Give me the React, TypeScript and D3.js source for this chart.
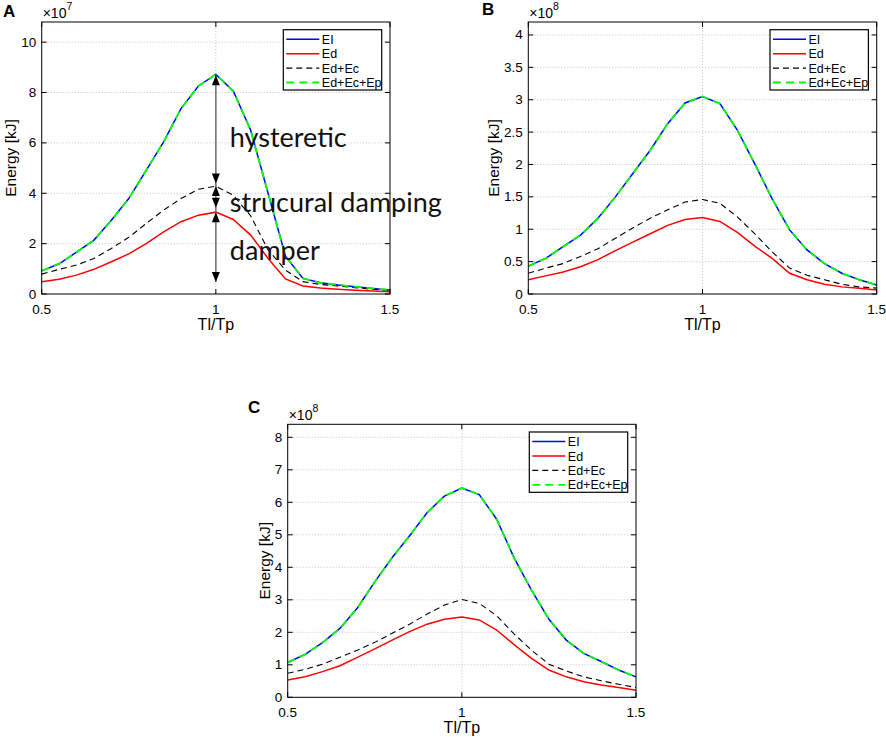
import * as d3 from 'd3';
import * as React from 'react';

// Tl/Tp sample points
const tlTp = [0.5, 0.55, 0.6, 0.65, 0.7, 0.75, 0.8, 0.85, 0.9, 0.95, 1.0, 1.05, 1.1, 1.15, 1.2, 1.25, 1.3, 1.35, 1.4, 1.45, 1.5];

// panel A (x1e7 kJ)
const eiA = [0.92, 1.2, 1.66, 2.14, 2.93, 3.79, 4.91, 6.04, 7.36, 8.26, 8.72, 8.06, 6.5, 4.0, 1.5, 0.62, 0.45, 0.36, 0.29, 0.22, 0.16];
const edEcA = [0.79, 0.98, 1.15, 1.41, 1.81, 2.25, 2.8, 3.33, 3.79, 4.16, 4.28, 3.92, 3.1, 1.75, 0.95, 0.49, 0.38, 0.32, 0.25, 0.19, 0.13];
const edA = [0.49, 0.59, 0.75, 0.98, 1.28, 1.59, 2.0, 2.47, 2.87, 3.13, 3.25, 2.96, 2.34, 1.41, 0.6, 0.32, 0.24, 0.19, 0.15, 0.12, 0.09];

// panel B (x1e8 kJ)
const eiB = [0.43, 0.55, 0.73, 0.91, 1.17, 1.5, 1.86, 2.22, 2.63, 2.95, 3.05, 2.94, 2.53, 2.01, 1.47, 0.99, 0.68, 0.47, 0.32, 0.22, 0.14];
const edEcB = [0.32, 0.4, 0.47, 0.58, 0.7, 0.86, 1.02, 1.17, 1.3, 1.42, 1.46, 1.4, 1.19, 0.93, 0.65, 0.4, 0.29, 0.22, 0.15, 0.11, 0.09];
const edB = [0.22, 0.28, 0.34, 0.42, 0.53, 0.67, 0.8, 0.93, 1.06, 1.15, 1.18, 1.12, 0.95, 0.74, 0.55, 0.32, 0.22, 0.15, 0.11, 0.09, 0.06];

// panel C (x1e8 kJ)
const eiC = [1.07, 1.32, 1.68, 2.12, 2.75, 3.55, 4.3, 4.97, 5.68, 6.19, 6.44, 6.24, 5.48, 4.29, 3.3, 2.4, 1.76, 1.35, 1.1, 0.84, 0.63];
const edEcC = [0.74, 0.86, 1.02, 1.23, 1.45, 1.69, 1.97, 2.25, 2.56, 2.84, 3.01, 2.89, 2.51, 1.95, 1.45, 1.02, 0.81, 0.63, 0.51, 0.4, 0.3];
const edC = [0.53, 0.63, 0.79, 0.97, 1.23, 1.49, 1.76, 2.02, 2.25, 2.4, 2.47, 2.38, 2.07, 1.62, 1.2, 0.84, 0.63, 0.48, 0.38, 0.3, 0.22];

const xTicks = [0.5, 1, 1.5];
const yTicksA = [0, 2, 4, 6, 8, 10];
const yTicksB = [0, 0.5, 1, 1.5, 2, 2.5, 3, 3.5, 4];
const yTicksC = [0, 1, 2, 3, 4, 5, 6, 7, 8];

const legendLabels = ['EI', 'Ed', 'Ed+Ec', 'Ed+Ec+Ep'];

// A annotation: arrow segments [from, to] in data units, and labels
const arrowSegs: [number, number][] = [[8.69, 4.39], [4.29, 3.42], [3.25, 0.48]];
const annLabels = ['hysteretic', 'strucural damping', 'damper'];
const annBaselines = [146.7, 211.7, 260];

const FONT = '"Liberation Sans", Arial, sans-serif';

interface PanelProps {
    letter: string;
    letterX: number;
    letterY: number;
    box: { left: number; right: number; top: number; bottom: number };
    yMax: number;
    yTicks: number[];
    exponent: number;
    yLabelX: number;
    ei: number[];
    ed: number[];
    edEc: number[];
    children?: (x: d3.ScaleLinear<number, number>, y: d3.ScaleLinear<number, number>) => React.ReactNode;
}

const Panel: React.FC<PanelProps> = ({ letter, letterX, letterY, box, yMax, yTicks, exponent, yLabelX, ei, ed, edEc, children }) => {
    const x = d3.scaleLinear().domain([0.5, 1.5]).range([box.left, box.right]);
    const y = d3.scaleLinear().domain([0, yMax]).range([box.bottom, box.top]);

    const mk = (vals: number[]) =>
        d3.line<number>().x((_, i) => x(tlTp[i])).y(d => y(d))(vals) || '';

    const series = [
        { vals: ei, stroke: '#0000ff', dash: undefined, w: 1.5 },
        { vals: ed, stroke: '#ff0000', dash: undefined, w: 1.5 },
        { vals: edEc, stroke: '#000000', dash: '6,4', w: 1.1 },
        { vals: ei, stroke: '#00ff00', dash: '8,5', w: 1.8 },
    ];

    const tl = 5;
    const lgW = 98.4, lgH = 60.3;
    const lgX = box.right - 8.3 - lgW;
    const lgY = box.top + 7.7;

    const ticksFmt = (v: number) => String(v);

    return (
        <g>
            {/* grid */}
            {yTicks.filter(t => t > 0).map(t => (
                <line key={'gy' + t} x1={box.left} x2={box.right} y1={y(t)} y2={y(t)}
                    stroke="#c4c4c4" strokeDasharray="1,2" />
            ))}
            {xTicks.slice(1, -1).map(t => (
                <line key={'gx' + t} x1={x(t)} x2={x(t)} y1={box.top} y2={box.bottom}
                    stroke="#c4c4c4" strokeDasharray="1,2" />
            ))}

            {/* lines */}
            {series.map((s, i) => (
                <path key={i} d={mk(s.vals)} fill="none" stroke={s.stroke}
                    strokeWidth={s.w} strokeDasharray={s.dash} />
            ))}

            {children && children(x, y)}

            {/* box + ticks */}
            <rect x={box.left} y={box.top} width={box.right - box.left} height={box.bottom - box.top}
                fill="none" stroke="#000" strokeWidth={1} />
            {yTicks.map(t => (
                <g key={'yt' + t}>
                    <line x1={box.left} x2={box.left + tl} y1={y(t)} y2={y(t)} stroke="#000" />
                    <line x1={box.right} x2={box.right - tl} y1={y(t)} y2={y(t)} stroke="#000" />
                    <text x={box.left - 5.5} y={y(t) + 4.5} textAnchor="end" fontSize={13.5} fontFamily={FONT}>{ticksFmt(t)}</text>
                </g>
            ))}
            {xTicks.map(t => (
                <g key={'xt' + t}>
                    <line x1={x(t)} x2={x(t)} y1={box.bottom} y2={box.bottom - tl} stroke="#000" />
                    <line x1={x(t)} x2={x(t)} y1={box.top} y2={box.top + tl} stroke="#000" />
                    <text x={x(t)} y={box.bottom + 20} textAnchor="middle" fontSize={13.5} fontFamily={FONT}>{ticksFmt(t)}</text>
                </g>
            ))}

            {/* exponent */}
            <text x={box.left + 1} y={box.top - 4} fontSize={14} fontFamily={FONT}>
                ×10<tspan dy={-8} fontSize={10.5}>{exponent}</tspan>
            </text>

            {/* axis labels */}
            <text transform={`translate(${yLabelX},${(box.top + box.bottom) / 2}) rotate(-90)`}
                textAnchor="middle" dominantBaseline="central" fontSize={15.5} fontFamily={FONT}>Energy [kJ]</text>
            <text x={(box.left + box.right) / 2} y={box.bottom + 36} textAnchor="middle" fontSize={16} fontFamily={FONT}>Tl/Tp</text>

            {/* panel letter */}
            <text x={letterX} y={letterY} fontSize={17} fontWeight="bold" fontFamily={FONT}>{letter}</text>

            {/* legend */}
            <rect x={lgX} y={lgY} width={lgW} height={lgH} fill="#fff" stroke="#000" strokeWidth={1.2} />
            {legendLabels.map((lab, i) => {
                const ry = lgY + 9.6 + i * 14.4;
                const s = series[i];
                return (
                    <g key={lab}>
                        <line x1={lgX + 3} x2={lgX + 36} y1={ry} y2={ry} stroke={s.stroke}
                            strokeWidth={s.w} strokeDasharray={s.dash} />
                        <text x={lgX + 38.5} y={ry + 4.5} fontSize={12.5} fontFamily={FONT}>{lab}</text>
                    </g>
                );
            })}
        </g>
    );
};

export default function App() {
    return (
        <svg width={886} height={737} style={{ position: 'absolute', left: 0, top: 0, background: '#fff' }}>
            <Panel letter="A" letterX={3} letterY={17}
                box={{ left: 41.7, right: 390, top: 22, bottom: 294 }}
                yMax={10.8} yTicks={yTicksA} exponent={7} yLabelX={10}
                ei={eiA} ed={edA} edEc={edEcA}>
                {(x, y) => (
                    <g>
                        <line x1={x(1)} x2={x(1)} y1={y(arrowSegs[0][0])} y2={y(arrowSegs[2][1])}
                            stroke="#6e6e6e" strokeWidth={1.5} />
                        {arrowSegs.map(([a, b], i) => {
                            const cx = x(1);
                            const ya = y(a), yb = y(b);
                            return (
                                <g key={i}>
                                    <path d={`M${cx},${ya} L${cx - 4},${ya + 10} L${cx + 4},${ya + 10} Z`} fill="#000" />
                                    <path d={`M${cx},${yb} L${cx - 4},${yb - 10} L${cx + 4},${yb - 10} Z`} fill="#000" />
                                </g>
                            );
                        })}
                        {annLabels.map((lab, i) => (
                            <text key={lab} x={x(1) + 14} y={annBaselines[i]} fontSize={27}
                                fontFamily='Lato, "Open Sans", sans-serif' fill="#111">{lab}</text>
                        ))}
                    </g>
                )}
            </Panel>
            <Panel letter="B" letterX={482} letterY={15}
                box={{ left: 528.3, right: 876.7, top: 22, bottom: 294 }}
                yMax={4.2} yTicks={yTicksB} exponent={8} yLabelX={493}
                ei={eiB} ed={edB} edEc={edEcB} />
            <Panel letter="C" letterX={248} letterY={413}
                box={{ left: 287.7, right: 636, top: 424.3, bottom: 697.3 }}
                yMax={8.4} yTicks={yTicksC} exponent={8} yLabelX={264}
                ei={eiC} ed={edC} edEc={edEcC} />
        </svg>
    );
}
